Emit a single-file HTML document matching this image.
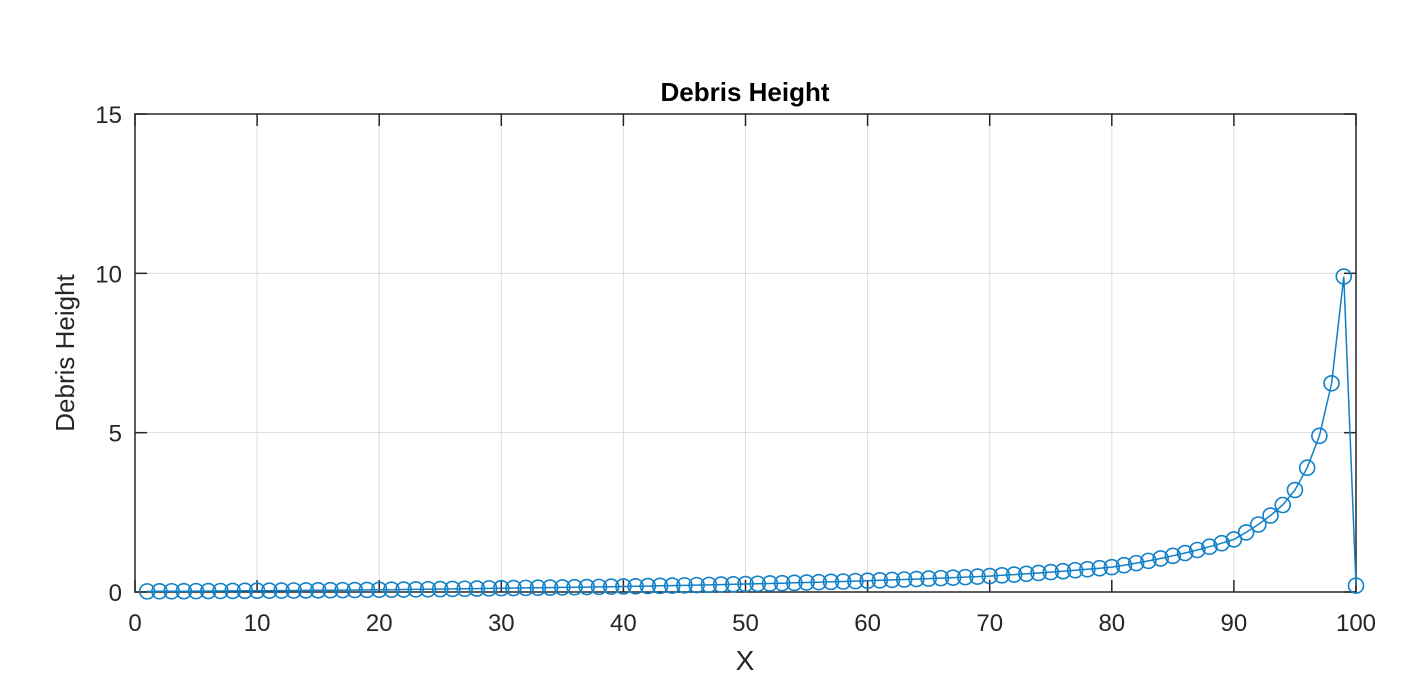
<!DOCTYPE html>
<html><head><meta charset="utf-8"><style>body{margin:0;background:#fff}svg{display:block}</style></head>
<body>
<svg id="s" width="1420" height="696" xmlns="http://www.w3.org/2000/svg" font-family="Liberation Sans, sans-serif">
<rect width="1420" height="696" fill="#fff"/>
<g id="grid" stroke="#dcdcdc" stroke-width="1"></g>
<rect x="135" y="114" width="1221" height="478" fill="none" stroke="#262626" stroke-width="1.5"/>
<g id="ticks" stroke="#262626" stroke-width="1.5"></g>
<g id="labels" fill="#262626" font-size="24"></g>
<text x="745" y="101" text-anchor="middle" font-size="26" font-weight="bold" fill="#000">Debris Height</text>
<text x="745" y="670" text-anchor="middle" font-size="28" fill="#262626">X</text>
<text transform="translate(74,353) rotate(-90)" text-anchor="middle" font-size="26" fill="#262626">Debris Height</text>
<polyline id="line" fill="none" stroke="#1080C8" stroke-width="1.5"/>
<g id="marks" fill="none" stroke="#1080C8" stroke-width="1.6"></g>
</svg>
<script>
var NS="http://www.w3.org/2000/svg";
function el(p,t,a,txt){var e=document.createElementNS(NS,t);for(var k in a)e.setAttribute(k,a[k]);if(txt!=null)e.textContent=txt;document.getElementById(p).appendChild(e);}
var L=135,R=1356,T=114,B=592;
function X(v){return L+(R-L)*v/100;}function Y(v){return B-(B-T)*v/15;}
for(var i=0;i<=10;i++){var x=X(i*10);
 if(i>0&&i<10)el("grid","line",{x1:x,x2:x,y1:T,y2:B});
 el("ticks","line",{x1:x,x2:x,y1:B,y2:B-12});el("ticks","line",{x1:x,x2:x,y1:T,y2:T+12});
 el("labels","text",{x:x,y:B+39,"text-anchor":"middle"},String(i*10));}
for(var j=0;j<=3;j++){var y=Y(j*5);
 if(j>0&&j<3)el("grid","line",{x1:L,x2:R,y1:y,y2:y});
 el("ticks","line",{x1:L,x2:L+12,y1:y,y2:y});el("ticks","line",{x1:R,x2:R-12,y1:y,y2:y});
 el("labels","text",{x:L-13,y:y+9,"text-anchor":"end"},String(j*5));}
var A=[[1,9.9],[2,6.55],[3,4.9],[4,3.9],[5,3.2],[6,2.73],[7,2.4],[10,1.65],[20,0.78],[30,0.5],[50,0.25],[70,0.12],[90,0.04],[99,0.02]];
function val(d){for(var k=0;k<A.length-1;k++){if(d>=A[k][0]&&d<=A[k+1][0]){var t=(d-A[k][0])/(A[k+1][0]-A[k][0]);return Math.exp(Math.log(A[k][1])*(1-t)+Math.log(A[k+1][1])*t);}}return 0.02;}
var pts=[];
for(var x=1;x<=100;x++){var v=x==100?0.2:val(100-x);var px=X(x),py=Y(v);pts.push(px.toFixed(1)+","+py.toFixed(1));
 el("marks","circle",{cx:px,cy:py,r:7.5});}
document.getElementById("line").setAttribute("points",pts.join(" "));
</script>
</body></html>
